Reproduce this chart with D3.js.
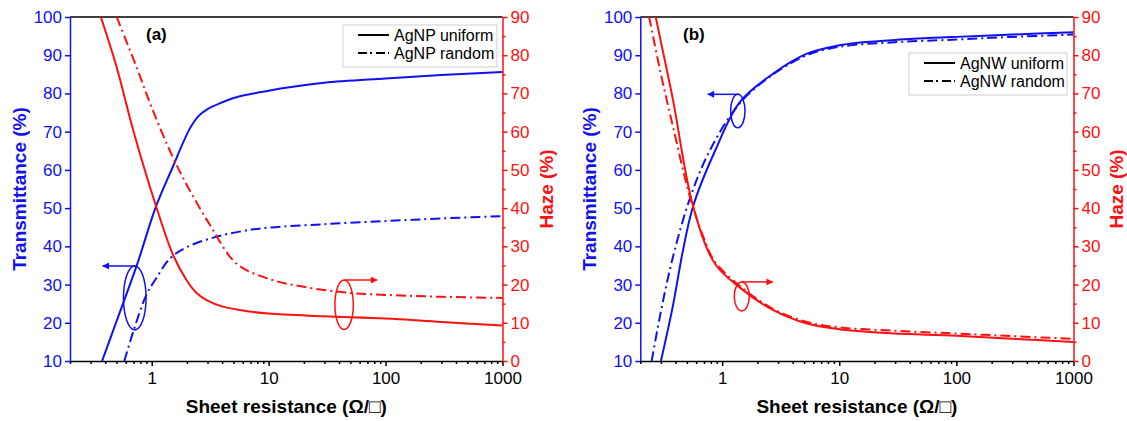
<!DOCTYPE html>
<html>
<head>
<meta charset="utf-8">
<title>Transmittance and haze vs sheet resistance</title>
<script src="https://d3js.org/d3.v7.min.js"></script>
<style>
  body { margin: 0; background: #fff; }
  svg { font-family: "Liberation Sans", Arial, sans-serif; }
  .tick text { font-size: 17px; }
</style>
</head>
<body>
<div id="chart"></div>
<script>
// x values: sheet resistance (ohm/sq), y values: percent
// (a) AgNP
var agnpUniformT = [[0.376,10],[0.5,20.4],[0.745,35],[1.09,50.5],[1.5,60.5],[2.1,70.6],[2.5,74],[3,75.9],[3.8,77.4],[5.3,79],[10,80.7],[15,81.6],[30,82.8],[100,83.9],[300,84.8],[1000,85.6]];
var agnpRandomT  = [[0.583,10],[0.7,18],[0.9,27.3],[1.1,31.8],[1.43,36.8],[2,39.8],[3.47,42.4],[6,44],[10,44.9],[30,45.8],[100,46.6],[300,47.3],[1000,47.9]];
var agnpUniformH = [[0.367,90],[0.5,77],[0.7,60],[1.09,40.5],[1.53,27.6],[2,21],[2.42,17.8],[3,15.8],[4,14.3],[6,13.2],[10,12.4],[30,11.7],[100,11.1],[300,10.2],[1000,9.3]];
var agnpRandomH  = [[0.502,90],[0.75,76.5],[1,66.3],[1.43,55],[2,46],[3.15,35.6],[5.3,25.5],[10,21.5],[20,19.4],[50,17.8],[100,17.3],[300,16.8],[1000,16.5]];

// (b) AgNW
var agnwUniformT = [[0.3,10],[0.38,24.5],[0.46,38.5],[0.565,50.5],[0.87,65],[1.42,77.8],[2.73,85.2],[5.3,90.4],[10,92.6],[15,93.3],[30,94],[100,94.8],[300,95.4],[1000,96]];
var agnwRandomT  = [[0.25,10],[0.3,23],[0.38,37.2],[0.53,52.5],[0.785,65.1],[1.42,77.5],[2.73,85],[5.3,90],[10,92.2],[30,93.4],[100,94.1],[300,94.8],[1000,95.4]];
var agnwUniformH = [[0.271,90],[0.3,83.5],[0.381,68.2],[0.565,40.5],[0.866,25.5],[1.42,19.2],[2.73,13.3],[5.3,9.8],[10,8.3],[15,7.8],[30,7.2],[100,6.6],[300,5.8],[1000,5]];
var agnwRandomH  = [[0.238,90],[0.3,75],[0.381,61.2],[0.53,43],[0.7,32],[0.866,26],[1.42,19.6],[2.73,13.6],[5.3,10.2],[10,8.8],[30,7.9],[100,7.2],[300,6.5],[1000,5.8]];

var xDomain = [0.2, 1000];
var xTicks = [1, 10, 100, 1000];
var xMinor = [0.2,0.3,0.4,0.5,0.6,0.7,0.8,0.9,2,3,4,5,6,7,8,9,20,30,40,50,60,70,80,90,200,300,400,500,600,700,800,900];
var tTicks = [10, 20, 30, 40, 50, 60, 70, 80, 90, 100];
var hTicks = [0, 10, 20, 30, 40, 50, 60, 70, 80, 90];
var hMinor = [5, 15, 25, 35, 45, 55, 65, 75, 85];

var legendA = ["AgNP uniform", "AgNP random"];
var legendB = ["AgNW uniform", "AgNW random"];

var BLUE = "#1010f0", RED = "#ff1010";
var DASHDOT = "10,4,2,4";

var svg = d3.select("#chart").append("svg")
  .attr("width", 1127).attr("height", 421);

var defs = svg.append("defs");
[["arrowBlue", BLUE], ["arrowRed", RED]].forEach(function(m) {
  defs.append("marker")
    .attr("id", m[0])
    .attr("viewBox", "0 0 10 10")
    .attr("refX", 9).attr("refY", 5)
    .attr("markerWidth", 10).attr("markerHeight", 7)
    .attr("markerUnits", "userSpaceOnUse")
    .attr("orient", "auto")
    .append("path").attr("d", "M0,0 L10,5 L0,10 Z").attr("fill", m[1]);
});

function drawPanel(p) {
  var top = 17, bottom = 361;
  var x = d3.scaleLog().domain(xDomain).range([p.left, p.right]);
  var yT = d3.scaleLinear().domain([10, 100]).range([bottom, top]);
  var yH = d3.scaleLinear().domain([0, 90]).range([bottom, top]);

  var g = svg.append("g");

  defs.append("clipPath").attr("id", "clip" + p.id)
    .append("rect").attr("x", p.left).attr("y", top)
    .attr("width", p.right - p.left).attr("height", bottom - top);

  // top frame line
  g.append("line").attr("x1", p.left).attr("x2", p.right)
    .attr("y1", top).attr("y2", top)
    .attr("stroke", "#000").attr("stroke-width", 1.5);

  // bottom axis
  var xa = g.append("g").attr("transform", "translate(0," + bottom + ")")
    .call(d3.axisBottom(x).tickValues(xTicks).tickFormat(d3.format("d")).tickSize(5).tickSizeOuter(0).tickPadding(6));
  g.append("g").attr("transform", "translate(0," + bottom + ")")
    .call(d3.axisBottom(x).tickValues(xMinor).tickFormat("").tickSize(3).tickSizeOuter(0))
    .select(".domain").remove();
  g.selectAll(".domain, .tick line").attr("stroke", "#000").attr("stroke-width", 1.5);
  xa.selectAll("text").attr("fill", "#000");

  // left transmittance axis
  var la = g.append("g").attr("transform", "translate(" + p.left + ",0)")
    .call(d3.axisLeft(yT).tickValues(tTicks).tickSize(5).tickSizeOuter(0).tickPadding(3));
  la.selectAll(".domain, .tick line").attr("stroke", BLUE).attr("stroke-width", 1.5);
  la.selectAll("text").attr("fill", BLUE);

  // right haze axis
  var ra = g.append("g").attr("transform", "translate(" + p.right + ",0)")
    .call(d3.axisRight(yH).tickValues(hTicks).tickSize(5).tickSizeOuter(0).tickPadding(3));
  var rm = g.append("g").attr("transform", "translate(" + p.right + ",0)")
    .call(d3.axisRight(yH).tickValues(hMinor).tickFormat("").tickSize(3).tickSizeOuter(0));
  rm.select(".domain").remove();
  ra.selectAll(".domain, .tick line").attr("stroke", RED).attr("stroke-width", 1.5);
  rm.selectAll(".tick line").attr("stroke", RED).attr("stroke-width", 1.5);
  ra.selectAll("text").attr("fill", RED);

  // curves
  var curve = d3.curveCatmullRom.alpha(0.5);
  var lineT = d3.line().x(function(d) { return x(d[0]); }).y(function(d) { return yT(d[1]); }).curve(curve);
  var lineH = d3.line().x(function(d) { return x(d[0]); }).y(function(d) { return yH(d[1]); }).curve(curve);
  var cg = g.append("g").attr("clip-path", "url(#clip" + p.id + ")").attr("fill", "none").attr("stroke-width", 2);
  cg.append("path").attr("d", lineT(p.uT)).attr("stroke", BLUE);
  cg.append("path").attr("d", lineT(p.rT)).attr("stroke", BLUE).attr("stroke-dasharray", DASHDOT);
  cg.append("path").attr("d", lineH(p.uH)).attr("stroke", RED);
  cg.append("path").attr("d", lineH(p.rH)).attr("stroke", RED).attr("stroke-dasharray", DASHDOT);

  // ellipse + arrow annotations
  var bx = x(p.blueMark[0]), by = yT(p.blueMark[1]);
  g.append("ellipse").attr("cx", bx).attr("cy", by).attr("rx", p.blueR[0]).attr("ry", p.blueR[1])
    .attr("fill", "none").attr("stroke", BLUE).attr("stroke-width", 1.5);
  g.append("line").attr("x1", bx + 1).attr("y1", by - p.blueR[1]).attr("x2", bx + 1 - p.arrowLen).attr("y2", by - p.blueR[1])
    .attr("stroke", BLUE).attr("stroke-width", 1.5).attr("marker-end", "url(#arrowBlue)");
  var rx = x(p.redMark[0]), ry = yH(p.redMark[1]);
  g.append("ellipse").attr("cx", rx).attr("cy", ry).attr("rx", p.redR[0]).attr("ry", p.redR[1])
    .attr("fill", "none").attr("stroke", RED).attr("stroke-width", 1.5);
  g.append("line").attr("x1", rx).attr("y1", ry - p.redR[1]).attr("x2", rx + p.arrowLen).attr("y2", ry - p.redR[1])
    .attr("stroke", RED).attr("stroke-width", 1.5).attr("marker-end", "url(#arrowRed)");

  // panel label
  g.append("text").attr("x", p.labelX).attr("y", 40).attr("font-size", 17).attr("font-weight", "bold")
    .text(p.label);

  // legend
  var lg = g.append("g").attr("transform", "translate(" + p.legX + "," + p.legY + ")");
  lg.append("rect").attr("width", p.legW).attr("height", 42).attr("fill", "#fff")
    .attr("stroke", "#cfcfcf").attr("stroke-width", 1);
  p.legend.forEach(function(name, i) {
    var yy = 10 + i * 18;
    lg.append("line").attr("x1", 15).attr("x2", 46).attr("y1", yy).attr("y2", yy)
      .attr("stroke", "#000").attr("stroke-width", 2)
      .attr("stroke-dasharray", i === 1 ? "9,3,2,4" : null);
    lg.append("text").attr("x", 51).attr("y", yy + 6).attr("font-size", 16).attr("fill", "#000").text(name);
  });

  // axis titles
  var midY = (top + bottom) / 2;
  g.append("text").attr("transform", "translate(" + p.tTitleX + "," + midY + ") rotate(-90)")
    .attr("text-anchor", "middle").attr("font-size", 19).attr("font-weight", "bold").attr("fill", BLUE)
    .text("Transmittance (%)");
  g.append("text").attr("transform", "translate(" + p.hTitleX + "," + midY + ") rotate(-90)")
    .attr("text-anchor", "middle").attr("font-size", 19).attr("font-weight", "bold").attr("fill", RED)
    .text("Haze (%)");
  g.append("text").attr("x", (p.left + p.right) / 2).attr("y", 413)
    .attr("text-anchor", "middle").attr("font-size", 19).attr("font-weight", "bold").attr("fill", "#000")
    .text("Sheet resistance (\u03A9/\u25A1)");
}

drawPanel({
  id: "a", left: 70, right: 502.5, label: "(a)", labelX: 146,
  uT: agnpUniformT, rT: agnpRandomT, uH: agnpUniformH, rH: agnpRandomH,
  blueMark: [0.716, 26.5], blueR: [11.3, 32], redMark: [44.2, 14.7], redR: [9.2, 24.7], arrowLen: 33,
  legend: legendA, legX: 343, legY: 25, legW: 154,
  tTitleX: 26, hTitleX: 553
});
drawPanel({
  id: "b", left: 640.3, right: 1073.5, label: "(b)", labelX: 683,
  uT: agnwUniformT, rT: agnwRandomT, uH: agnwUniformH, rH: agnwRandomH,
  blueMark: [1.36, 75.4], blueR: [7.2, 16.7], redMark: [1.47, 16.9], redR: [7.5, 14.5], arrowLen: 31,
  legend: legendB, legX: 909, legY: 53, legW: 158,
  tTitleX: 596, hTitleX: 1123
});
</script>
</body>
</html>
